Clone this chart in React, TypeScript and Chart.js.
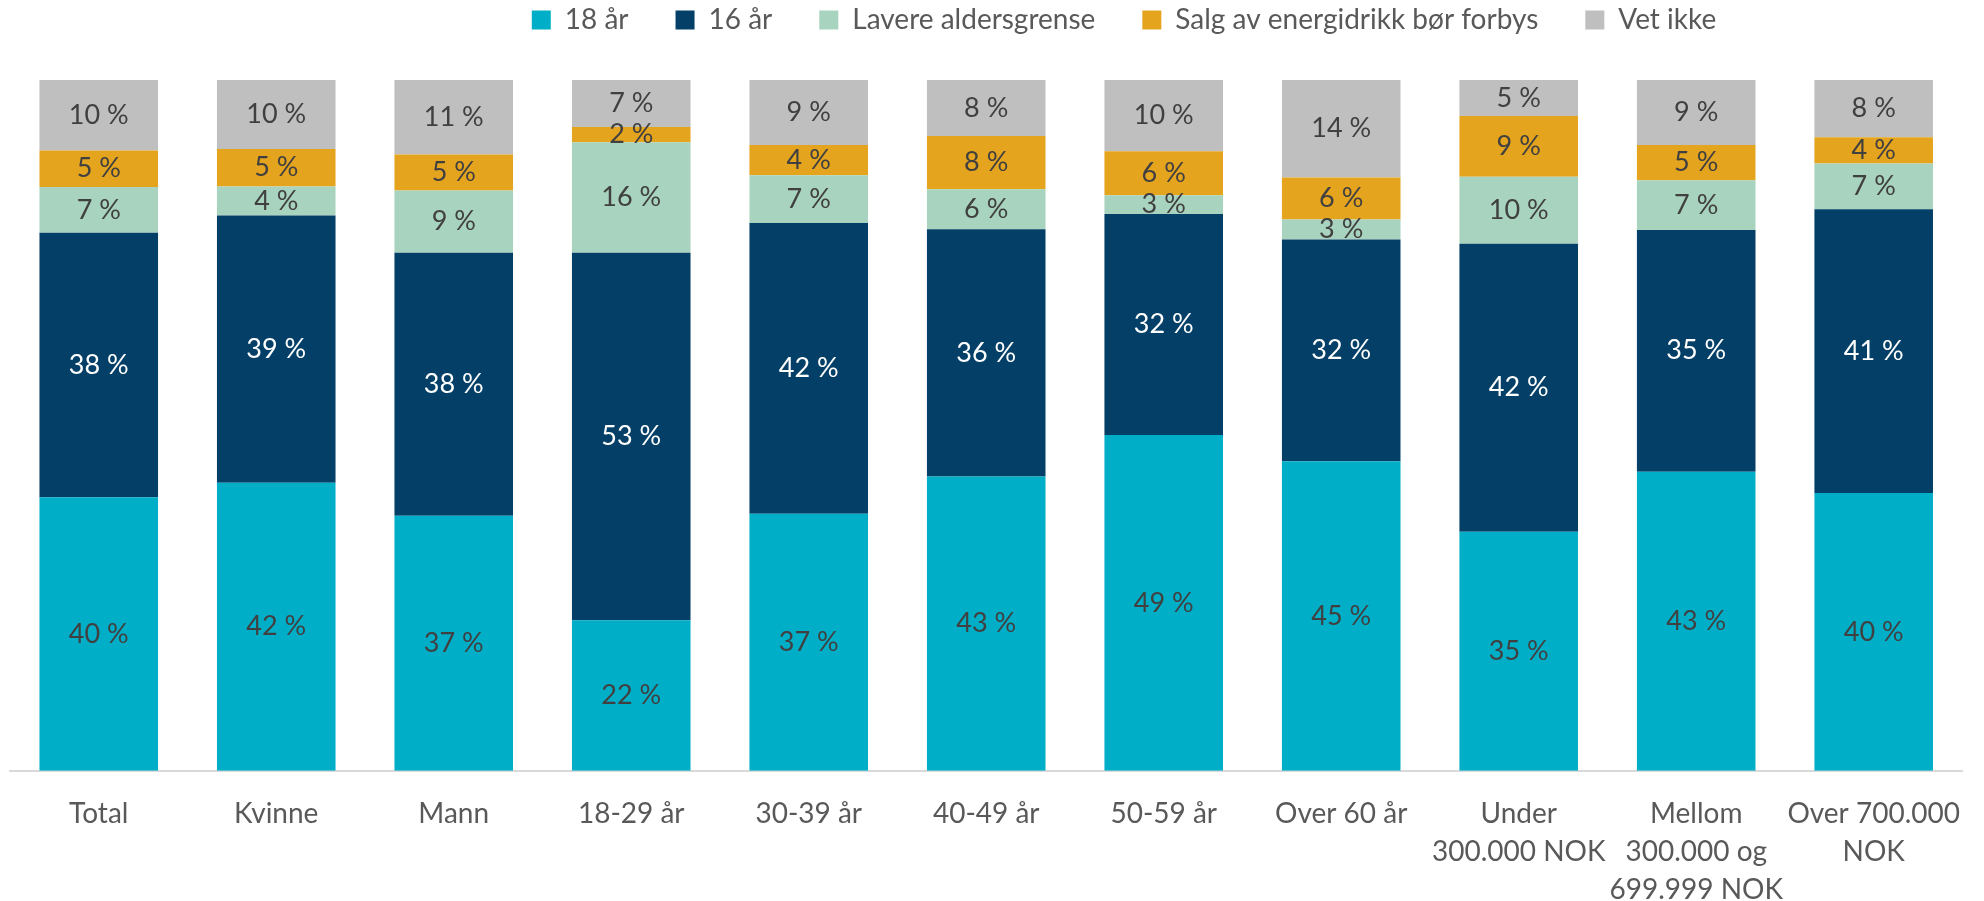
import React, { useEffect, useRef } from "react";
import { Chart, registerables } from "chart.js";

Chart.register(...registerables);

const categories: (string | string[])[] = [
  "Total",
  "Kvinne",
  "Mann",
  "18-29 år",
  "30-39 år",
  "40-49 år",
  "50-59 år",
  "Over 60 år",
  ["Under", "300.000 NOK"],
  ["Mellom", "300.000 og", "699.999 NOK"],
  ["Over 700.000", "NOK"],
];

const seriesNames = ["18 år", "16 år", "Lavere aldersgrense", "Salg av energidrikk bør forbys", "Vet ikke"];

const aar18 = [39.6, 41.7, 36.9, 21.8, 37.2, 42.6, 48.6, 44.8, 34.6, 43.3, 40.2];
const aar16 = [38.3, 38.7, 38.1, 53.2, 42.1, 35.8, 32.0, 32.1, 41.7, 35.0, 41.1];
const lavere = [6.6, 4.2, 9.0, 16.0, 6.9, 5.8, 2.7, 2.9, 9.7, 7.2, 6.6];
const salg = [5.3, 5.4, 5.2, 2.2, 4.4, 7.7, 6.4, 6.1, 8.8, 5.1, 3.8];
const vetIkke = [10.2, 10.0, 10.8, 6.8, 9.4, 8.1, 10.3, 14.1, 5.2, 9.4, 8.3];

const seriesValues = [aar18, aar16, lavere, salg, vetIkke];
const seriesColors = ["#00AEC7", "#033F66", "#A8D3BE", "#E5A41E", "#BFBFBF"];
const labelColors = ["#404040", "#FFFFFF", "#404040", "#404040", "#404040"];

const FONT = "Lato, 'Open Sans', sans-serif";

const segmentLabels = {
  id: "segmentLabels",
  afterDatasetsDraw(chart: any) {
    const ctx = chart.ctx;
    chart.data.datasets.forEach((ds: any, i: number) => {
      const meta = chart.getDatasetMeta(i);
      meta.data.forEach((bar: any, j: number) => {
        const v = ds.data[j] as number;
        const { x, y, base } = bar.getProps(["x", "y", "base"], true);
        ctx.save();
        ctx.font = `27px ${FONT}`;
        ctx.fillStyle = labelColors[i];
        ctx.textAlign = "center";
        ctx.textBaseline = "middle";
        ctx.fillText(`${Math.round(v)} %`, x, (y + base) / 2);
        ctx.restore();
      });
    });
  },
};

const legendShift = {
  id: "legendShift",
  afterLayout(chart: any) {
    const lg = chart.legend;
    if (!lg) return;
    const dx = 127;
    const dy = -36;
    lg.left += dx;
    lg.right += dx;
    lg.top += dy;
    lg.bottom += dy;
  },
};

export default function App() {
  const ref = useRef<HTMLCanvasElement | null>(null);

  useEffect(() => {
    if (!ref.current) return;
    const chart = new Chart(ref.current, {
      type: "bar",
      data: {
        labels: categories,
        datasets: seriesValues.map((vals, i) => ({
          label: seriesNames[i],
          data: vals,
          backgroundColor: seriesColors[i],
          borderWidth: 0,
          categoryPercentage: 1,
          barPercentage: 0.668,
        })),
      },
      options: {
        animation: false,
        responsive: false,
        maintainAspectRatio: false,
        layout: { padding: { top: -5, left: 10, right: 0, bottom: 0 } },
        plugins: {
          tooltip: { enabled: false },
          legend: {
            position: "top",
            align: "center",
            labels: {
              boxWidth: 19,
              boxHeight: 19,
              padding: 47,
              color: "#595959",
              font: { family: FONT, size: 28 },
            },
          },
        },
        scales: {
          x: {
            stacked: true,
            grid: { display: false, drawTicks: false },
            border: { display: true, color: "#D9D9D9", width: 2 },
            ticks: {
              color: "#595959",
              font: { family: FONT, size: 28, lineHeight: 1.36 },
              padding: 24,
              maxRotation: 0,
              autoSkip: false,
            },
          },
          y: {
            stacked: true,
            display: false,
            min: 0,
            max: 100,
          },
        },
      },
      plugins: [segmentLabels, legendShift],
    });
    return () => chart.destroy();
  }, []);

  return (
    <div
      style={{
        position: "absolute",
        left: 0,
        top: 0,
        width: 1984,
        height: 901,
        overflow: "hidden",
        background: "#FFFFFF",
      }}
    >
      <canvas ref={ref} width={1984} height={933} style={{ display: "block" }} />
    </div>
  );
}
